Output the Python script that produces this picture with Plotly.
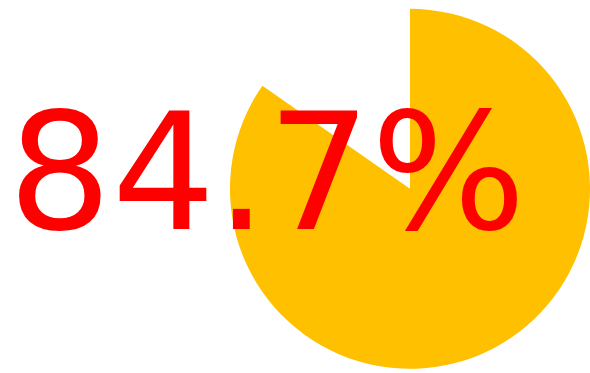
import plotly.graph_objects as go

labels = ["Done", "Remaining"]
values = [84.7, 15.3]
colors = ["#FFC000", "rgba(255,255,255,0)"]
label_text = "84.7%"

fig = go.Figure()
fig.add_trace(go.Pie(
    labels=labels, values=values, sort=False, direction="clockwise", rotation=0,
    marker=dict(colors=colors, line=dict(width=0)),
    textinfo="none", hoverinfo="skip", showlegend=False,
    domain=dict(x=[0.3898, 1.0], y=[0.009, 0.9786]),
))
fig.add_annotation(
    text=label_text, x=0.4525, y=0.537, xref="paper", yref="paper",
    xanchor="center", yanchor="middle", showarrow=False,
    font=dict(family="DejaVu Sans", size=163, color="#FF0000"),
)
fig.update_layout(
    width=590, height=373, margin=dict(l=0, r=0, t=0, b=0),
    paper_bgcolor="white", plot_bgcolor="white",
)
fig.write_html("out.html")
